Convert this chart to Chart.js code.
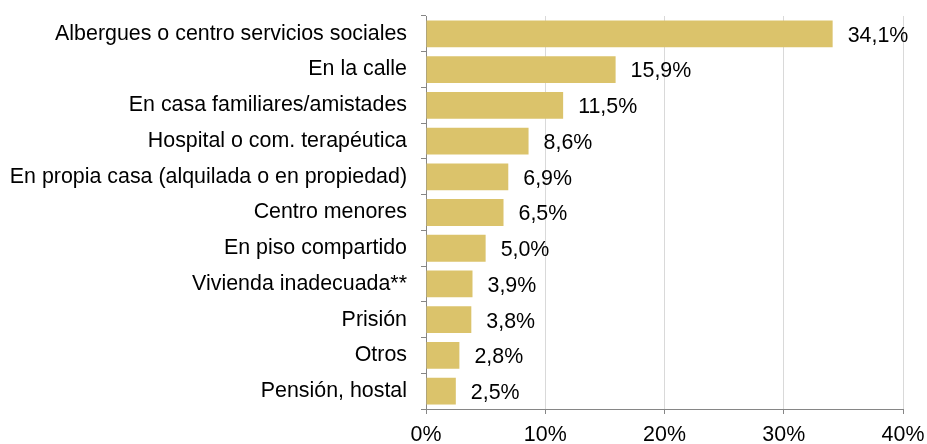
<!DOCTYPE html>
<html>
<head>
    <meta charset="UTF-8">
    <title>Lugar donde durmió</title>
    <style>
        html, body { margin: 0; padding: 0; background: #ffffff; }
        #wrap { width: 927px; height: 444px; position: relative; }
    </style>
</head>
<body>
    <div id="wrap"><canvas id="barChart"></canvas></div>

    <script src="https://cdn.jsdelivr.net/npm/chart.js"></script>
    <script>
        // Data
        const categories = [
            'Albergues o centro servicios sociales',
            'En la calle',
            'En casa familiares/amistades',
            'Hospital o com. terapéutica',
            'En propia casa (alquilada o en propiedad)',
            'Centro menores',
            'En piso compartido',
            'Vivienda inadecuada**',
            'Prisión',
            'Otros',
            'Pensión, hostal'
        ];
        const percentages = [34.1, 15.9, 11.5, 8.6, 6.9, 6.5, 5.0, 3.9, 3.8, 2.8, 2.5];
        const xTicks = [0, 10, 20, 30, 40];

        const fontFamily = '"Liberation Sans", Arial, sans-serif';
        const fontSize = 21.4;

        function fmt(v) {
            return v.toFixed(1).replace('.', ',') + '%';
        }

        // draws the value next to each bar
        const valueLabels = {
            id: 'valueLabels',
            afterDatasetsDraw(chart) {
                const ctx = chart.ctx;
                const meta = chart.getDatasetMeta(0);
                ctx.save();
                ctx.font = fontSize + 'px ' + fontFamily;
                ctx.fillStyle = '#000000';
                ctx.textAlign = 'left';
                ctx.textBaseline = 'middle';
                meta.data.forEach((bar, i) => {
                    ctx.fillText(fmt(percentages[i]), bar.x + 15, bar.y + 2);
                });
                ctx.restore();
            }
        };

        const ctx = document.getElementById('barChart').getContext('2d');
        new Chart(ctx, {
            type: 'bar',
            data: {
                labels: categories,
                datasets: [{
                    data: percentages,
                    backgroundColor: '#dbc36b',
                    borderWidth: 0,
                    barPercentage: 0.75,
                    categoryPercentage: 1.0
                }]
            },
            options: {
                indexAxis: 'y',
                responsive: true,
                maintainAspectRatio: false,
                animation: false,
                layout: { padding: { top: 16, right: 24, left: 0, bottom: 0 } },
                plugins: {
                    legend: { display: false },
                    tooltip: { enabled: false }
                },
                scales: {
                    x: {
                        min: 0,
                        max: 40,
                        afterBuildTicks(scale) {
                            scale.ticks = xTicks.map(v => ({ value: v }));
                        },
                        afterFit(scale) {
                            scale.height = 35;
                            scale.paddingLeft = 0;
                            scale.paddingRight = 0;
                        },
                        ticks: {
                            color: '#000000',
                            font: { family: fontFamily, size: fontSize },
                            padding: 8,
                            maxRotation: 0,
                            callback: v => v + '%'
                        },
                        grid: {
                            color: '#d9d9d9',
                            tickColor: '#868686',
                            tickLength: 5,
                            lineWidth: 1
                        },
                        border: { display: true, color: '#868686', width: 1 }
                    },
                    y: {
                        afterFit(scale) {
                            scale.width = 426;
                            scale.paddingTop = 0;
                            scale.paddingBottom = 0;
                        },
                        ticks: {
                            color: '#000000',
                            font: { family: fontFamily, size: fontSize },
                            padding: 14,
                            autoSkip: false
                        },
                        grid: {
                            offset: true,
                            drawOnChartArea: false,
                            color: '#868686',
                            tickLength: 5
                        },
                        border: { display: true, color: '#868686', width: 1 }
                    }
                }
            },
            plugins: [valueLabels]
        });
    </script>
</body>
</html>
